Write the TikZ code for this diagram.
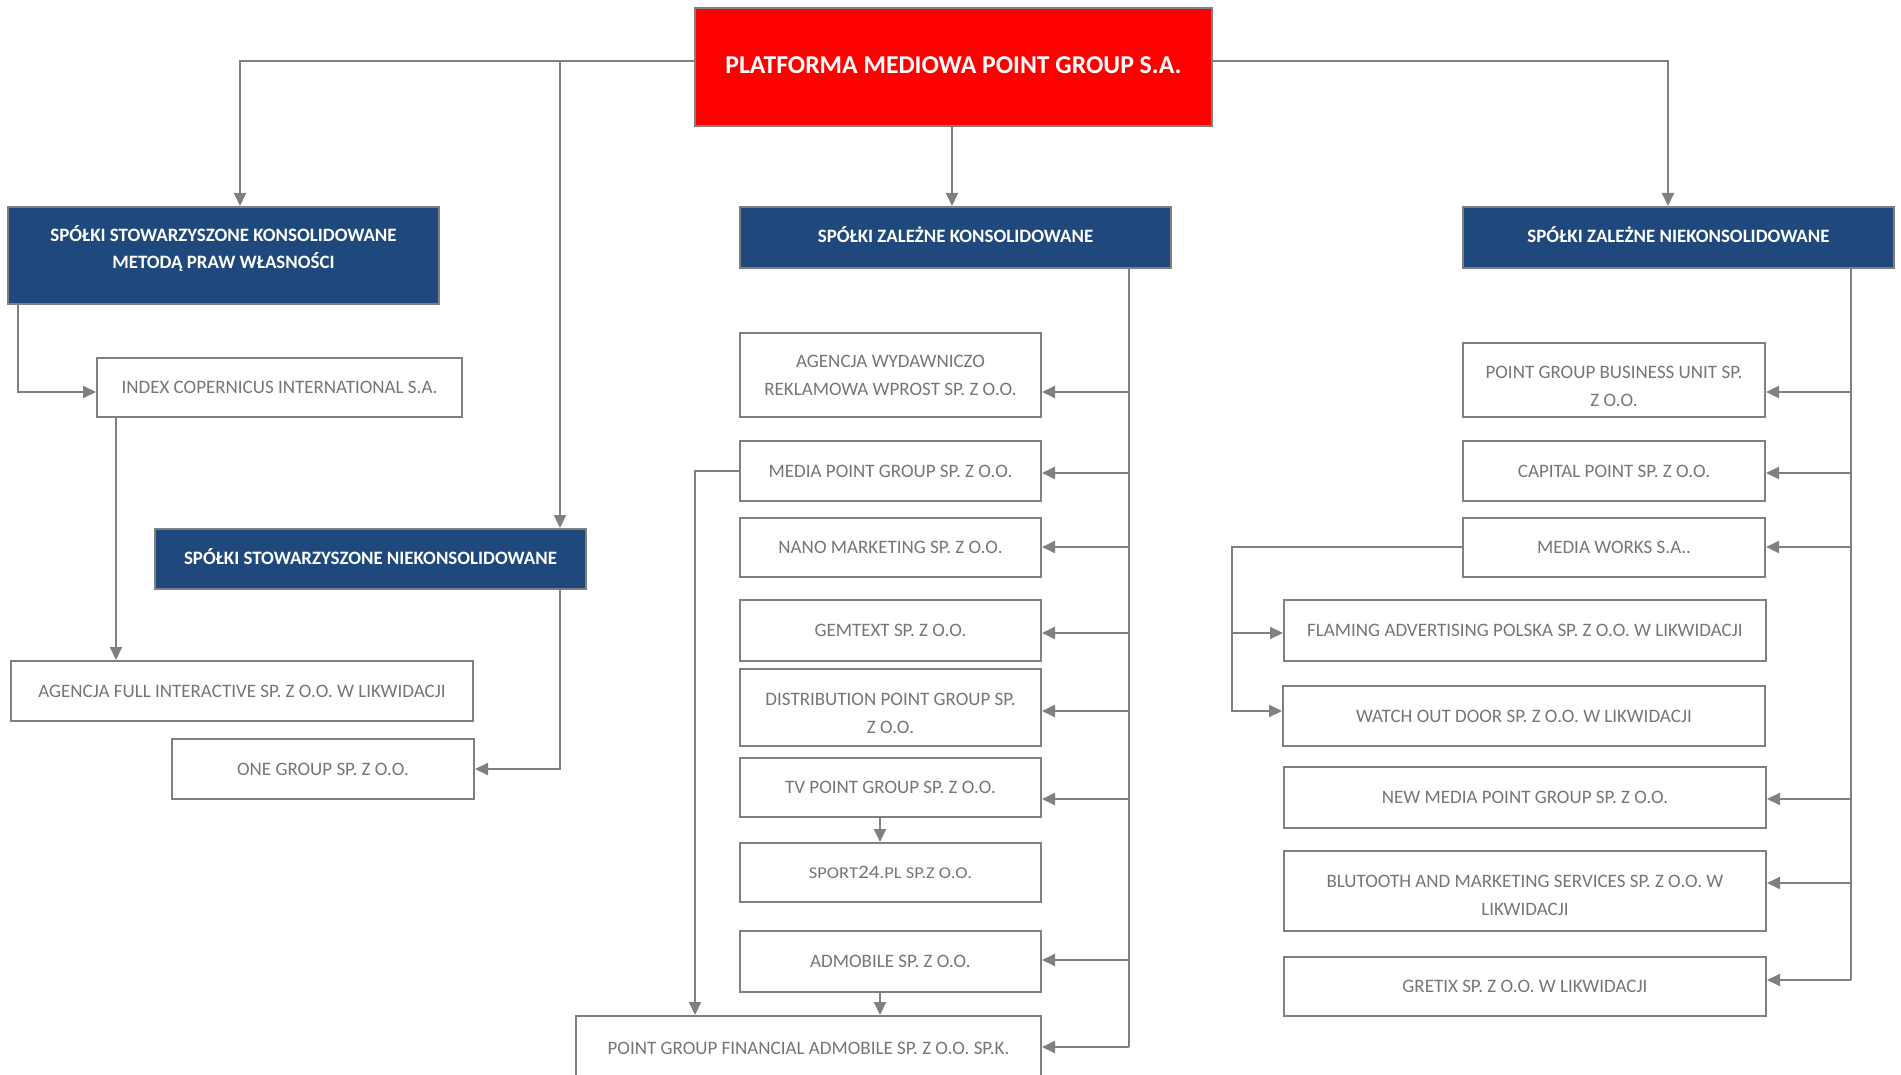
\documentclass[tikz,border=0pt]{standalone}
\usepackage{fontspec}
\usepackage{graphicx}
\setmainfont{Carlito}
\usetikzlibrary{arrows.meta}
\definecolor{bordergray}{RGB}{128,128,128}
\definecolor{txtgray}{RGB}{118,118,118}
\definecolor{hdrblue}{RGB}{31,73,125}
\definecolor{topred}{RGB}{255,0,0}
\begin{document}
\begin{tikzpicture}[x=1pt,y=-1pt,
 box/.style={draw=bordergray, line width=2pt, fill=white, text=txtgray, font=\fontsize{19}{28}\selectfont, align=center, inner sep=0pt},
 hdr/.style={draw=bordergray, line width=2pt, fill=hdrblue, text=white, font=\bfseries\fontsize{18.9}{27}\selectfont, align=center, inner sep=0pt, text depth=5pt},
 conn/.style={draw=bordergray, line width=2pt},
 arr/.style={conn, -{Triangle[length=13pt,width=12pt]}},
]
\useasboundingbox (0,0) rectangle (1901,1075);
% top
\node[draw=bordergray, line width=2pt, fill=topred, text=white, font=\bfseries\fontsize{25.7}{30}\selectfont, inner sep=0pt, text depth=4pt, minimum width=517pt, minimum height=118pt] (red) at (953.5,67) {PLATFORMA MEDIOWA POINT GROUP S.A.};
% headers
\node[hdr, text depth=16pt, minimum width=431pt, minimum height=97pt] (ssk) at (223.5,255.5) {SPÓŁKI STOWARZYSZONE KONSOLIDOWANE\\METODĄ PRAW WŁASNOŚCI};
\node[hdr, minimum width=431pt, minimum height=61pt] (szk) at (955.5,237.5) {SPÓŁKI ZALEŻNE KONSOLIDOWANE};
\node[hdr, minimum width=431pt, minimum height=61pt] (szn) at (1678.5,237.5) {SPÓŁKI ZALEŻNE NIEKONSOLIDOWANE};
\node[hdr, minimum width=431pt, minimum height=60pt] (ssn) at (370.5,559) {SPÓŁKI STOWARZYSZONE NIEKONSOLIDOWANE};
% left column
\node[box, minimum width=365pt, minimum height=59pt] (index) at (279.5,387.5) {INDEX COPERNICUS INTERNATIONAL S.A.};
\node[box, minimum width=462pt, minimum height=60pt] (afi) at (242,691) {AGENCJA FULL INTERACTIVE SP. Z O.O. W LIKWIDACJI};
\node[box, minimum width=302pt, minimum height=60pt] (one) at (323,769) {ONE GROUP SP. Z O.O.};
% middle column
\node[box, minimum width=301pt, minimum height=84pt] (awr) at (890.5,375) {AGENCJA WYDAWNICZO\\REKLAMOWA WPROST SP. Z O.O.};
\node[box, minimum width=301pt, minimum height=60pt] (mpg) at (890.5,471) {MEDIA POINT GROUP SP. Z O.O.};
\node[box, minimum width=301pt, minimum height=59pt] (nano) at (890.5,547.5) {NANO MARKETING SP. Z O.O.};
\node[box, minimum width=301pt, minimum height=61pt] (gem) at (890.5,630.5) {GEMTEXT SP. Z O.O.};
\node[box, text height=52pt, minimum width=301pt, minimum height=77pt] (dist) at (890.5,707.5) {DISTRIBUTION POINT GROUP SP.\\Z O.O.};
\node[box, minimum width=301pt, minimum height=59pt] (tv) at (890.5,787.5) {TV POINT GROUP SP. Z O.O.};
\node[box, minimum width=301pt, minimum height=59pt] (sport) at (890.5,872.5) {\scalebox{1.12}[1]{{\fontsize{16.5}{20}\selectfont SPORT}24{\fontsize{16.5}{20}\selectfont .PL SP.Z O.O.}}};
\node[box, minimum width=301pt, minimum height=61pt] (adm) at (890.5,961.5) {ADMOBILE SP. Z O.O.};
\node[box, minimum width=465pt, minimum height=64pt] (pgf) at (808.5,1048) {POINT GROUP FINANCIAL ADMOBILE SP. Z O.O. SP.K.};
% right column
\node[box, text height=54pt, minimum width=302pt, minimum height=74pt] (pgbu) at (1614,380) {POINT GROUP BUSINESS UNIT SP.\\Z O.O.};
\node[box, minimum width=302pt, minimum height=60pt] (cap) at (1614,471) {CAPITAL POINT SP. Z O.O.};
\node[box, minimum width=302pt, minimum height=59pt] (mw) at (1614,547.5) {MEDIA WORKS S.A..};
\node[box, minimum width=482pt, minimum height=61pt] (flam) at (1525,630.5) {FLAMING ADVERTISING POLSKA SP. Z O.O. W LIKWIDACJI};
\node[box, minimum width=482pt, minimum height=60pt] (wod) at (1524,716) {WATCH OUT DOOR SP. Z O.O. W LIKWIDACJI};
\node[box, minimum width=482pt, minimum height=61pt] (nmp) at (1525,797.5) {NEW MEDIA POINT GROUP SP. Z O.O.};
\node[box, text height=49pt, minimum width=482pt, minimum height=80pt] (blu) at (1525,891) {BLUTOOTH AND MARKETING SERVICES SP. Z O.O. W\\LIKWIDACJI};
\node[box, minimum width=482pt, minimum height=59pt] (gre) at (1525,986.5) {GRETIX SP. Z O.O. W LIKWIDACJI};
% top connectors
\coordinate (j1) at (560,61);
\draw[arr] (red.west |- 0,61) -| (ssk.north -| 240,0);
\draw[arr] (j1) -- (ssn.north -| j1);
\draw[arr] (red.east |- 0,61) -| (szn.north -| 1668,0);
\draw[arr] (red.south -| 952,0) -- (szk.north -| 952,0);
% left connectors
\draw[arr] (ssk.south -| 18,0) |- (index.west |- 0,392);
\draw[arr] (index.south -| 116,0) -- (afi.north -| 116,0);
\draw[arr] (ssn.south -| j1) |- (one.east |- 0,769);
% middle connectors
\coordinate (mtop) at (szk.south -| 1129,0);
\draw[conn] (mtop) -- (mtop |- 0,1047);
\foreach \n/\yy in {awr/392, mpg/473, nano/547, gem/633, dist/711, tv/799, adm/960, pgf/1047}
  \draw[arr] (mtop |- 0,\yy) -- (\n.east |- 0,\yy);
\draw[arr] (mpg.west) -| (pgf.north -| 695,0);
\draw[arr] (tv.south -| 880,0) -- (sport.north -| 880,0);
\draw[arr] (adm.south -| 880,0) -- (pgf.north -| 880,0);
% right connectors
\coordinate (rtop) at (szn.south -| 1851,0);
\draw[conn] (rtop) -- (rtop |- 0,980);
\foreach \n/\yy in {pgbu/392, cap/473, mw/547, nmp/799, blu/883, gre/980}
  \draw[arr] (rtop |- 0,\yy) -- (\n.east |- 0,\yy);
\coordinate (mwj) at (1232,633);
\draw[arr] (mw.west |- 0,547) -| (mwj) -- (flam.west |- mwj);
\draw[arr] (mwj) |- (wod.west |- 0,711);
\end{tikzpicture}
\end{document}
